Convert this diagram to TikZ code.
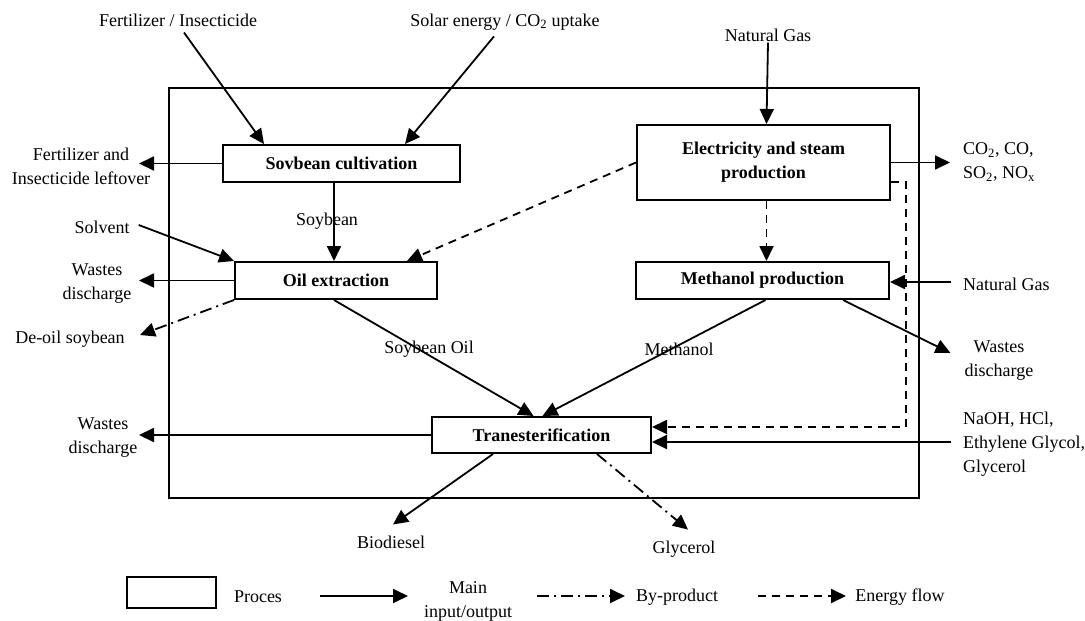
\documentclass[tikz,border=0pt]{standalone}
\usepackage{fontspec}
\setmainfont{Liberation Serif}
\usetikzlibrary{arrows.meta,calc}
\begin{document}
\begin{tikzpicture}[x=1pt,y=-1pt,
  every node/.style={font=\fontsize{18}{24}\selectfont},
  proc/.style={draw,line width=2pt,inner sep=0pt,align=center,font=\fontsize{18}{24}\selectfont\bfseries},
  lbl/.style={inner sep=1pt,align=center},
  lbll/.style={inner sep=0pt,align=left,anchor=west},
  arr/.style={line width=1.8pt,-{Triangle[length=15pt,width=14pt]}},
  dasharr/.style={arr,dash pattern=on 8pt off 6pt},
  dotarr/.style={arr,dash pattern=on 12pt off 5pt on 2pt off 5pt}]
\useasboundingbox (0,0) rectangle (1085,621);
% frame
\draw[line width=2pt] (169,88) rectangle (919,498);
% process boxes
\node[proc,minimum width=237pt,minimum height=37pt] (sov) at (341.5,163.5) {Sovbean cultivation};
\node[proc,minimum width=202pt,minimum height=37pt] (oil) at (336,280.5) {Oil extraction};
\node[proc,minimum width=253pt,minimum height=75pt] (elec) at (763.5,162.5) {Electricity and steam\\production};
\node[proc,minimum width=253pt,minimum height=37pt] (meth) at (762.5,280.5) {Methanol production};
\node[proc,minimum width=219pt,minimum height=36pt] (trans) at (541.5,435) {Tranesterification};
% labels
\node[lbl] (fert) at (178,20) {Fertilizer / Insecticide};
\node[lbl] (solar) at (505,22) {Solar energy / CO\textsubscript{2} uptake};
\node[lbl] (ng1) at (768,35) {Natural Gas};
\node[lbl] (left1) at (81,166) {Fertilizer and\\Insecticide leftover};
\node[lbl] (soyl) at (327,221) {Soybean};
\node[lbl] (solv) at (102,227) {Solvent};
\node[lbl] (wd1) at (97,284) {Wastes\\discharge};
\node[lbl] (deoil) at (70,339) {De-oil soybean};
\node[lbll] (co2) at (963,162) {CO\textsubscript{2}, CO,\\SO\textsubscript{2}, NO\textsubscript{x}};
\node[lbll] (ng2) at (963,284) {Natural Gas};
\node[lbl] (soyoil) at (429,349) {Soybean Oil};
\node[lbl] (methl) at (679,349) {Methanol};
\node[lbl] (wd2) at (999,361) {Wastes\\discharge};
\node[lbl] (wd3) at (103,438) {Wastes\\discharge};
\node[lbll] (naoh) at (963,444) {NaOH, HCl,\\Ethylene Glycol,\\Glycerol};
\node[lbl] (bio) at (391,542) {Biodiesel};
\node[lbl] (gly) at (684,549) {Glycerol};
% tip coordinates
\coordinate (lt) at (139,0);
\coordinate (rt) at (950,0);
% connectors
\draw[arr] ($(fert.south)+(6,5)$) -- ($(sov.north west)+(42,0)$);
\draw[arr] ($(solar.south)+(-11,5)$) -- ($(sov.north west)+(183,0)$);
\draw[arr] (ng1.south) -- ($(elec.north)+(3,0)$);
\draw[arr] (sov.west) -- (sov.west -| lt);
\draw[arr] ($(sov.south)+(-7.5,0)$) -- ($(oil.north)+(-2,0)$);
\draw[arr] ($(solv.east)+(8,-2)$) -- (oil.north west);
\draw[arr] (oil.west) -- (oil.west -| lt);
\draw[dotarr] (oil.south west) -- (140,335);
\draw[dasharr] (elec.west) -- ($(oil.north east)+(-31,0)$);
\draw[dasharr] ($(elec.south)+(3,0)$) -- ($(meth.north)+(4,0)$);
\draw[arr] (elec.east) -- (elec.east -| rt);
\draw[dasharr] ($(elec.east)+(0,19.5)$) -- ++(15,0) |- ($(trans.east)+(0,-8)$);
\draw[arr] ($(meth.east)+(61,1.5)$) -- ($(meth.east)+(0,1.5)$);
\draw[arr] ($(oil.south)+(-2,0)$) -- ($(trans.north)+(-8,0)$);
\draw[arr] ($(meth.south)+(3,0)$) -- ($(trans.north)+(1,0)$);
\draw[arr] ($(meth.south east)+(-47,0)$) -- ($(wd2.west)+(-13,-8)$);
\draw[arr] (trans.west) -- (trans.west -| lt);
\draw[arr] ($(trans.east)+(299,7)$) -- ($(trans.east)+(0,7)$);
\draw[arr] ($(trans.south west)+(62,0)$) -- ($(bio.north)+(2,-10)$);
\draw[dotarr] ($(trans.south east)+(-55,0)$) -- ($(gly.north)+(4,-10)$);
% legend
\node[draw,line width=2pt,minimum width=89pt,minimum height=31pt,inner sep=0pt] (lgbox) at (171.5,592.5) {};
\node[lbl] (lgproc) at (258,597) {Proces};
\coordinate (la1) at (320,596);
\coordinate (la2) at (408,596);
\draw[arr] (la1) -- (la2);
\node[lbl] (lgmain) at (468,601) {Main\\input/output};
\coordinate (lb1) at (537,596);
\coordinate (lb2) at (625,596);
\draw[dotarr] (lb1) -- (lb2);
\node[lbl] (lgby) at (677,597) {By-product};
\coordinate (lc1) at (758,596);
\coordinate (lc2) at (846,596);
\draw[dasharr] (lc1) -- (lc2);
\node[lbl] (lgen) at (900,597) {Energy flow};
\end{tikzpicture}
\end{document}
